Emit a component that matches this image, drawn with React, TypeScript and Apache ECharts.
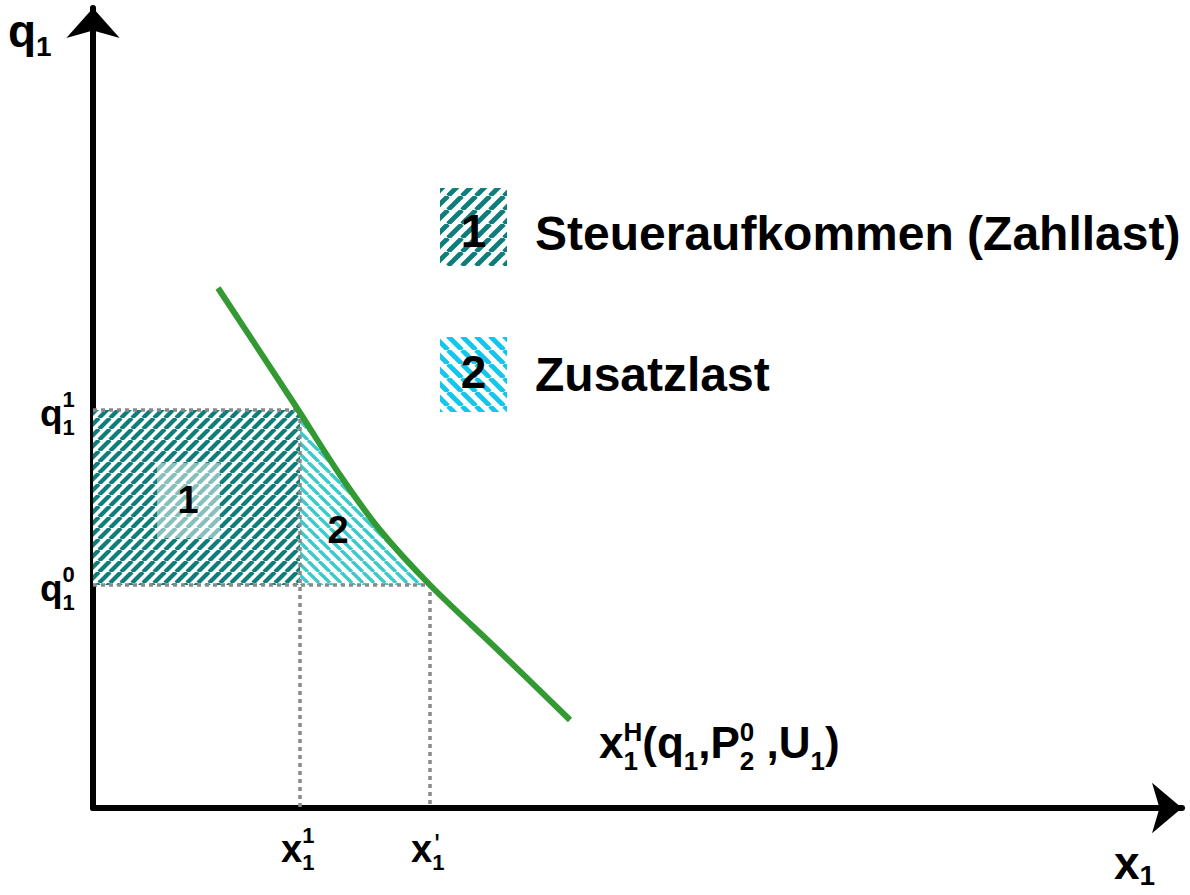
import React, { useEffect, useRef } from 'react';
import * as echarts from 'echarts';

// ---- data (axis units: 0..X_MAX, 0..Y_MAX) ----
const X_MAX = 108.9;
const Y_MAX = 80.0;
const xTickValues = [20.7, 33.7]; // x1^1, x1'
const xTickSup = ['1', "'"];
const yTickValues = [39.8, 22.3]; // q1^1, q1^0
const yTickSup = ['1', '0'];
const curveX = [12.5, 20.2, 24.7, 28.7, 33.7, 40.7, 47.7];
const curveY = [52.0, 40.3, 33.3, 27.8, 22.3, 15.6, 8.8];
const area1 = [[0, 22.3], [20.7, 22.3], [20.7, 39.8], [0, 39.8]];
const area2 = [[20.7, 22.3], [33.7, 22.3], [31.0, 25.0], [28.7, 27.8], [26.6, 30.5], [24.7, 33.3], [22.6, 36.6], [20.7, 39.5]];
const areaLabelNames = ['1', '2'];
const areaLabelPos = [[9.5, 30.8], [24.5, 27.8]];
const legendNames = ['Steueraufkommen (Zahllast)', 'Zusatzlast'];

const DARK = '#0f7e7a';
const LIGHT = '#3cc9c9';
const CYAN = '#14c6ee';
const GREEN = '#339933';
const FONT = '"Liberation Sans", Arial, Helvetica, sans-serif';

function stripes(color: string, dir: '/' | '\\', p: number, w: number) {
  const c = document.createElement('canvas');
  c.width = p; c.height = p;
  const ctx = c.getContext('2d')!;
  ctx.fillStyle = '#fff';
  ctx.fillRect(0, 0, p, p);
  ctx.strokeStyle = color;
  ctx.lineWidth = w;
  for (let k = -1; k <= 1; k++) {
    ctx.beginPath();
    if (dir === '/') { ctx.moveTo(k * p, p); ctx.lineTo(k * p + p, 0); }
    else { ctx.moveTo(k * p, 0); ctx.lineTo(k * p + p, p); }
    ctx.stroke();
  }
  return { image: c, repeat: 'repeat', imageWidth: p, imageHeight: p } as any;
}

const mctx = document.createElement('canvas').getContext('2d')!;
function measure(t: string, size: number, weight = 'bold') {
  mctx.font = `${weight} ${size}px ${FONT}`;
  return mctx.measureText(t).width;
}
function txt(t: string, x: number, base: number, size: number, align = 'left', weight = 'bold') {
  return {
    type: 'text', x, y: base - 0.35 * size, z: 100,
    style: { text: t, font: `${weight} ${size}px ${FONT}`, fill: '#000', textAlign: align, textVerticalAlign: 'middle' },
  };
}
type Part = { t?: string; size: number; dy?: number; sup?: string; sub?: string; supDy?: number; subDy?: number; supWeight?: string; supSize?: number };
function seq(parts: Part[], x0: number, base: number) {
  let x = x0;
  const out: any[] = [];
  for (const p of parts) {
    if (p.t) {
      out.push(txt(p.t, x, base + (p.dy || 0), p.size));
      x += measure(p.t, p.size);
    } else {
      let w = 0;
      if (p.sup) {
        const wt = p.supWeight || 'bold';
        const sz = p.supSize || p.size;
        out.push(txt(p.sup, x + (p.supWeight ? 2 : 0), base + (p.supDy || 0), sz, 'left', wt));
        w = Math.max(w, measure(p.sup, sz, wt));
      }
      if (p.sub) { out.push(txt(p.sub, x, base + (p.subDy || 0), p.size)); w = Math.max(w, measure(p.sub, p.size)); }
      x += w;
    }
  }
  return out;
}

export default function App() {
  const ref = useRef<HTMLDivElement>(null);
  useEffect(() => {
    const chart = echarts.init(ref.current!, null, { renderer: 'svg' });
    const pat1 = stripes(DARK, '/', 11, 4.2);
    const pat2 = stripes(LIGHT, '\\', 11, 3.4);
    const leg1 = stripes(DARK, '/', 14, 4.8);
    const leg2 = stripes(CYAN, '\\', 14, 4.8);

    const polySeries = (poly: number[][], fill: any, z: number) => ({
      type: 'custom', z, silent: true,
      data: [0],
      renderItem: (_p: any, api: any) => ({
        type: 'polygon',
        shape: { points: poly.map((pt) => api.coord(pt)) },
        style: { fill, stroke: 'none' },
      }),
    });

    const dotted = (pts: number[][]) => ({
      type: 'line', z: 5, silent: true, symbol: 'none',
      data: pts,
      lineStyle: { color: '#8a8a8a', width: 3.5, type: [4, 4] },
    });

    chart.setOption({
      animation: false,
      grid: { left: 93, right: 8, top: 8, bottom: 87 },
      xAxis: {
        type: 'value', min: 0, max: X_MAX,
        axisLine: { show: true, lineStyle: { color: '#000', width: 6 }, symbol: ['none', 'arrow'], symbolSize: [38, 30] },
        axisTick: { show: false }, axisLabel: { show: false }, splitLine: { show: false },
      },
      yAxis: {
        type: 'value', min: 0, max: Y_MAX,
        axisLine: { show: true, lineStyle: { color: '#000', width: 6 }, symbol: ['none', 'arrow'], symbolSize: [40, 30] },
        axisTick: { show: false }, axisLabel: { show: false }, splitLine: { show: false },
      },
      series: [
        polySeries(area1, pat1, 1),
        polySeries(area2, pat2, 1),
        dotted([[0, yTickValues[0]], [xTickValues[0], yTickValues[0]], [xTickValues[0], 0]]),
        dotted([[0, yTickValues[1]], [xTickValues[1], yTickValues[1]], [xTickValues[1], 0]]),
        {
          type: 'line', z: 6, symbol: 'none', smooth: 0.3,
          data: curveX.map((x, i) => [x, curveY[i]]),
          lineStyle: { color: GREEN, width: 6 },
        },
        {
          type: 'custom', z: 7, silent: true,
          data: areaLabelPos.map((p, i) => [p[0], p[1], i]),
          renderItem: (params: any, api: any) => {
            const i = params.dataIndex;
            const [cx, cy] = api.coord([api.value(0), api.value(1)]);
            const children: any[] = [];
            if (i === 0) {
              children.push({ type: 'rect', shape: { x: cx - 31, y: cy - 37, width: 63, height: 75 }, style: { fill: 'rgba(255,255,255,0.5)' } });
            }
            children.push({
              type: 'text', x: cx, y: cy,
              style: { text: areaLabelNames[i], font: `bold 38px ${FONT}`, fill: '#000', textAlign: 'center', textVerticalAlign: 'middle' },
            });
            return { type: 'group', children };
          },
        },
      ],
    });

    const px = (x: number, y: number) => chart.convertToPixel({ gridIndex: 0 }, [x, y]) as number[];
    const g: any[] = [];
    // axis titles
    g.push(...seq([{ t: 'q', size: 46 }, { t: '1', size: 28, dy: 9 }], 8, 47));
    g.push(...seq([{ t: 'x', size: 46 }, { t: '1', size: 28, dy: 6 }], 1114, 879));
    // y ticks
    yTickValues.forEach((v, i) => {
      const [, yy] = px(0, v);
      g.push(...seq([{ t: 'q', size: 37 }, { sup: yTickSup[i], sub: '1', size: 22, supDy: -19, subDy: 9 }], 40, yy + 16));
    });
    // x ticks
    xTickValues.forEach((v, i) => {
      const [xx] = px(v, 0);
      const prime = i === 1;
      g.push(...seq([{ t: 'x', size: 38 }, {
        sup: xTickSup[i], sub: '1', size: 22, supDy: prime ? -8 : -19, subDy: 8,
        supWeight: prime ? 'normal' : undefined, supSize: prime ? 30 : undefined,
      }], xx - 19, 862));
    });
    // curve label
    g.push(...seq([
      { t: 'x', size: 44 },
      { sup: 'H', sub: '1', size: 26, supDy: -17, subDy: 12 },
      { t: '(q', size: 44 },
      { t: '1', size: 26, dy: 12 },
      { t: ',P', size: 44 },
      { sup: '0', sub: '2', size: 26, supDy: -17, subDy: 12 },
      { t: ' ,U', size: 44 },
      { t: '1', size: 26, dy: 12 },
      { t: ')', size: 44 },
    ], 599, 758));
    // legend
    const legBoxes = [
      { y: 188, h: 78, fill: leg1, base: 250 },
      { y: 337, h: 75, fill: leg2, base: 391 },
    ];
    legBoxes.forEach((b, i) => {
      g.push({ type: 'rect', shape: { x: 440, y: b.y, width: 67, height: b.h }, style: { fill: b.fill }, z: 90 });
      g.push(txt(areaLabelNames[i], 473.5, b.base - 3, 46, 'center'));
      g.push(txt(legendNames[i], 535, b.base, 48));
    });
    chart.setOption({ graphic: { elements: g } });

    return () => chart.dispose();
  }, []);
  return <div ref={ref} style={{ position: 'fixed', left: 0, top: 0, width: 1190, height: 895, background: '#fff' }} />;
}
